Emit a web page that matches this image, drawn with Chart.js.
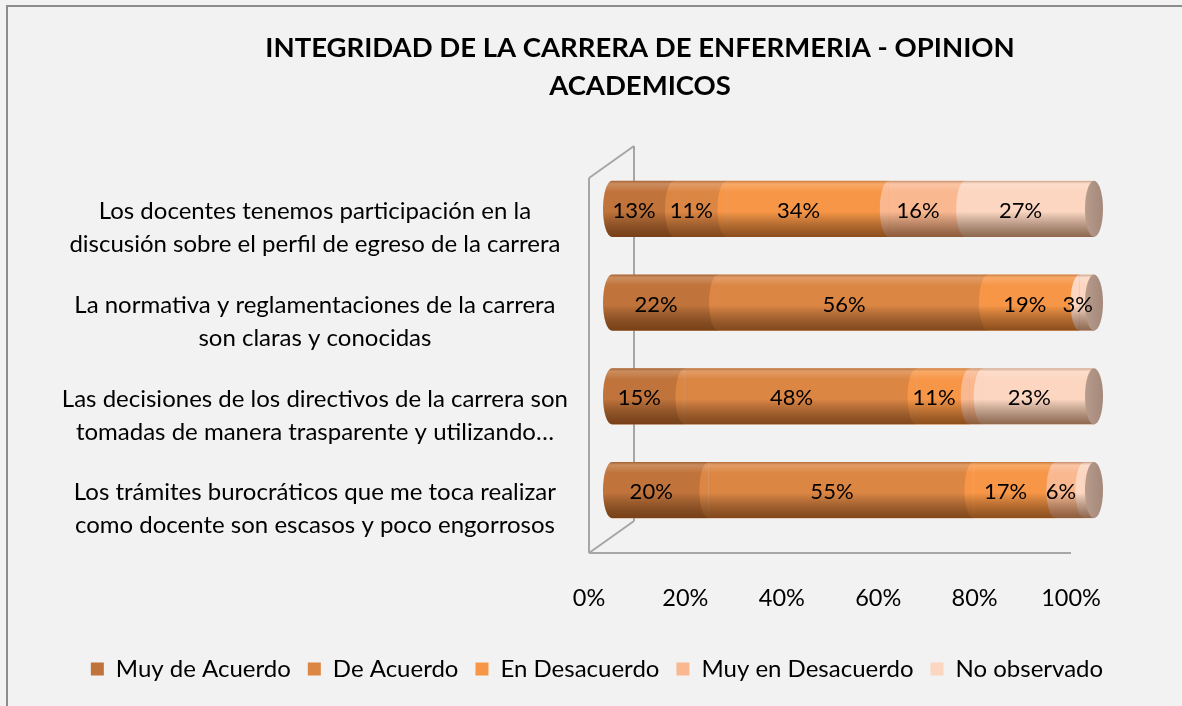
<!DOCTYPE html>
<html>
<head>
<meta charset="utf-8">
<script src="https://cdn.jsdelivr.net/npm/chart.js@4/dist/chart.umd.min.js"></script>
<style>
  html, body { margin: 0; padding: 0; background: #f2f2f2; }
  #wrap { width: 1182px; height: 706px; }
</style>
</head>
<body>
<div id="wrap"><canvas id="myChart"></canvas></div>
<script>
let labelsRows = [
    ['Los docentes tenemos participación en la', 'discusión sobre el perfil de egreso de la carrera'],
    ['La normativa y reglamentaciones de la carrera', 'son claras y conocidas'],
    ['Las decisiones de los directivos de la carrera son', 'tomadas de manera trasparente y utilizando…'],
    ['Los trámites burocráticos que me toca realizar', 'como docente son escasos y poco engorrosos']
];
let seriesNames = ['Muy de Acuerdo', 'De Acuerdo', 'En Desacuerdo', 'Muy en Desacuerdo', 'No observado'];

let muyDeAcuerdo    = [13, 22, 15, 20];
let deAcuerdo       = [11, 56, 48, 55];
let enDesacuerdo    = [34, 19, 11, 17];
let muyEnDesacuerdo = [16, 0, 2.7, 6];
let noObservado     = [27, 3, 23, 2];

let colorsSeries = ['#C0733A', '#DC8644', '#F79646', '#FAB890', '#FCD6C0'];
let xTicks = [0, 20, 40, 60, 80, 100];

let allSeries = [muyDeAcuerdo, deAcuerdo, enDesacuerdo, muyEnDesacuerdo, noObservado];
// 100% stacked: each row is scaled to its own total
let rowTotals = labelsRows.map((r, j) => allSeries.reduce((s, arr) => s + arr[j], 0));

const FONT = 'Lato';
const RX = 9;

// background + outer frame
let bgPlugin = {
    id: 'bg',
    beforeDraw(chart) {
        let ctx = chart.ctx;
        ctx.save();
        ctx.fillStyle = '#f2f2f2';
        ctx.fillRect(0, 0, chart.width, chart.height);
        ctx.strokeStyle = '#8c8c8c';
        ctx.lineWidth = 2;
        ctx.beginPath();
        ctx.moveTo(7, chart.height);
        ctx.lineTo(7, 6);
        ctx.lineTo(chart.width, 6);
        ctx.stroke();
        ctx.restore();
    },
    afterUpdate(chart) {
        // title and legend are not centred on the plot, move them over
        let t = chart.titleBlock;
        t.left += 93; t.right += 93;
        let lg = chart.legend;
        lg.left += 50; lg.right += 50;
        lg.adjustHitBoxes();
    }
};

// 3d walls of the plot
let wallsPlugin = {
    id: 'walls',
    beforeDatasetsDraw(chart) {
        let ctx = chart.ctx, a = chart.chartArea;
        let fx = a.left - 23, fy = 16, bx = a.left + 22, by = -16;
        ctx.save();
        ctx.strokeStyle = '#a6a6a6';
        ctx.lineWidth = 2;
        ctx.beginPath();
        ctx.moveTo(bx, a.top + by); ctx.lineTo(bx, a.bottom + by);
        ctx.moveTo(fx, a.top + fy); ctx.lineTo(fx, a.bottom + fy);
        ctx.moveTo(fx, a.top + fy); ctx.lineTo(bx, a.top + by);
        ctx.moveTo(fx, a.bottom + fy); ctx.lineTo(bx, a.bottom + by);
        ctx.moveTo(fx, a.bottom + fy); ctx.lineTo(a.right - 23, a.bottom + fy);
        ctx.stroke();
        ctx.restore();
    }
};

// cylinder look + value labels
let cylPlugin = {
    id: 'cyl',
    afterDatasetsDraw(chart) {
        let ctx = chart.ctx;
        let n = chart.data.datasets.length;
        labelsRows.forEach((r, j) => {
            let els = [];
            for (let i = 0; i < n; i++) els.push(chart.getDatasetMeta(i).data[j]);
            let y = els[0].y, h = els[0].height, top = y - h / 2;
            let startX = els[0].base;
            let endX = Math.max(...els.map(e => e.x));

            ctx.save();
            for (let i = 0; i < n; i++) {
                if (allSeries[i][j] <= 0) continue;
                ctx.fillStyle = colorsSeries[i];
                ctx.beginPath();
                ctx.ellipse(els[i].base, y, RX, h / 2, 0, Math.PI / 2, Math.PI * 1.5);
                ctx.fill();
            }
            // shading over the whole body
            ctx.beginPath();
            ctx.rect(startX, top, endX - startX, h);
            ctx.ellipse(startX, y, RX, h / 2, 0, 0, Math.PI * 2);
            ctx.clip();
            let g = ctx.createLinearGradient(0, top, 0, top + h);
            g.addColorStop(0, 'rgba(90,50,20,0.35)');
            g.addColorStop(0.06, 'rgba(255,255,255,0.18)');
            g.addColorStop(0.2, 'rgba(255,255,255,0)');
            g.addColorStop(0.55, 'rgba(0,0,0,0)');
            g.addColorStop(1, 'rgba(70,30,0,0.6)');
            ctx.fillStyle = g;
            ctx.fillRect(startX - RX, top, endX - startX + RX, h);
            ctx.restore();

            // end cap
            ctx.save();
            let cg = ctx.createLinearGradient(endX - RX, 0, endX + RX, 0);
            cg.addColorStop(0, '#b79c8c');
            cg.addColorStop(1, '#a4887a');
            ctx.fillStyle = cg;
            ctx.beginPath();
            ctx.ellipse(endX, y, RX, h / 2, 0, 0, Math.PI * 2);
            ctx.fill();
            ctx.restore();

            // labels
            ctx.save();
            ctx.fillStyle = '#000';
            ctx.font = '22px ' + FONT;
            ctx.textAlign = 'center';
            ctx.textBaseline = 'middle';
            for (let i = 0; i < n; i++) {
                let v = allSeries[i][j];
                if (v < 3) continue;
                let cx = (els[i].x + els[i].base) / 2 - RX;
                ctx.fillText(Math.round(v) + '%', cx, y + 2);
            }
            ctx.restore();
        });
    }
};

let datasets = allSeries.map((arr, i) => ({
    label: seriesNames[i],
    data: arr.map((v, j) => v / rowTotals[j] * 100),
    backgroundColor: colorsSeries[i],
    borderWidth: 0,
    barPercentage: 0.6,
    categoryPercentage: 1
}));

let myChart = new Chart(document.getElementById('myChart'), {
    type: 'bar',
    data: {
        labels: labelsRows,
        datasets: datasets
    },
    options: {
        indexAxis: 'y',
        responsive: true,
        maintainAspectRatio: false,
        animation: false,
        layout: { padding: { left: 0, right: 88, top: 29, bottom: 15 } },
        scales: {
            x: {
                stacked: true,
                min: 0,
                max: 100,
                afterBuildTicks(scale) { scale.ticks = xTicks.map(v => ({ value: v })); },
                ticks: {
                    callback: v => v + '%',
                    color: '#000',
                    font: { family: FONT, size: 23.5 },
                    padding: 39,
                    labelOffset: -23
                },
                grid: { display: false },
                border: { display: false },
                afterFit(scale) { scale.height = 103; }
            },
            y: {
                stacked: true,
                ticks: {
                    color: '#000',
                    font: { family: FONT, size: 24, lineHeight: '33px' },
                    padding: 44,
                    labelOffset: 19,
                    crossAlign: 'center'
                },
                grid: { display: false, drawTicks: false },
                border: { display: false },
                afterFit(scale) { scale.width = 612; }
            }
        },
        plugins: {
            title: {
                display: true,
                text: ['INTEGRIDAD DE LA CARRERA DE ENFERMERIA - OPINION', 'ACADEMICOS'],
                color: '#000',
                font: { family: FONT, size: 27.5, weight: 'bold', lineHeight: '38px' },
                padding: { top: 0, bottom: 57 }
            },
            legend: {
                position: 'bottom',
                labels: {
                    color: '#000',
                    font: { family: FONT, size: 24 },
                    boxWidth: 13,
                    boxHeight: 13,
                    padding: 17
                }
            },
            tooltip: { enabled: false }
        }
    },
    plugins: [bgPlugin, wallsPlugin, cylPlugin]
});
</script>
</body>
</html>
